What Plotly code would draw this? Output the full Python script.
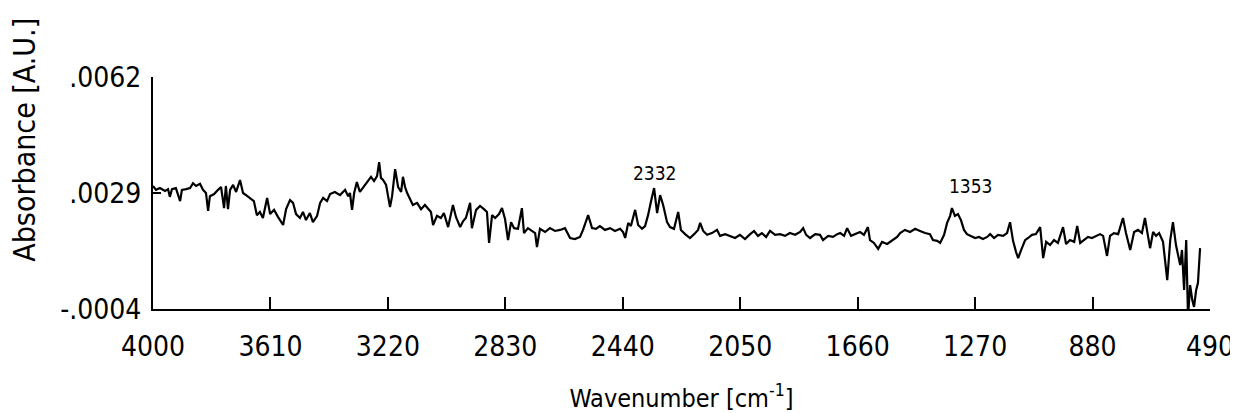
import plotly.graph_objects as go

# IR absorbance spectrum
wavenumber = [
    4000, 3990, 3977, 3960, 3950, 3944, 3937, 3924, 3910, 3904, 3890, 3877, 3867, 3857, 3844, 3834,
    3824, 3817, 3811, 3797, 3784, 3774, 3764, 3758, 3751, 3744, 3734, 3724, 3711, 3701, 3691, 3678,
    3665, 3655, 3645, 3635, 3621, 3611, 3598, 3585, 3568, 3558, 3545, 3535, 3525, 3512, 3502, 3492,
    3479, 3469, 3455, 3445, 3435, 3422, 3412, 3396, 3379, 3362, 3352, 3346, 3339, 3332, 3323, 3313,
    3303, 3289, 3276, 3266, 3256, 3249, 3243, 3236, 3226, 3220, 3213, 3206, 3196, 3186, 3176, 3170,
    3163, 3156, 3146, 3137, 3123, 3110, 3097, 3087, 3077, 3070, 3057, 3044, 3034, 3020, 3010, 3004,
    2994, 2980, 2970, 2961, 2947, 2941, 2927, 2914, 2901, 2891, 2884, 2874, 2864, 2851, 2841, 2831,
    2821, 2811, 2801, 2788, 2775, 2768, 2755, 2741, 2731, 2725, 2715, 2698, 2682, 2665, 2648, 2632,
    2615, 2599, 2582, 2572, 2555, 2542, 2529, 2516, 2499, 2482, 2466, 2449, 2439, 2432, 2422, 2413,
    2399, 2389, 2376, 2366, 2356, 2346, 2336, 2326, 2316, 2306, 2293, 2283, 2270, 2256, 2247, 2233,
    2217, 2203, 2190, 2183, 2173, 2160, 2144, 2127, 2117, 2100, 2084, 2067, 2051, 2034, 2017, 2004,
    1991, 1978, 1964, 1951, 1934, 1918, 1901, 1885, 1868, 1851, 1841, 1831, 1818, 1801, 1785, 1775,
    1758, 1742, 1728, 1718, 1705, 1695, 1682, 1669, 1652, 1639, 1626, 1619, 1606, 1592, 1579, 1562,
    1546, 1529, 1519, 1503, 1486, 1469, 1453, 1436, 1420, 1410, 1396, 1386, 1373, 1363, 1353, 1347,
    1337, 1327, 1317, 1307, 1297, 1283, 1270, 1257, 1244, 1230, 1220, 1207, 1194, 1177, 1164, 1154,
    1144, 1134, 1127, 1117, 1104, 1094, 1081, 1068, 1054, 1044, 1034, 1021, 1008, 995, 978, 968,
    955, 941, 931, 921, 908, 895, 882, 868, 855, 845, 832, 822, 809, 795, 779, 769,
    755, 742, 729, 716, 706, 696, 689, 679, 669, 659, 646, 632, 622, 613, 603, 589,
    583, 576, 569, 563, 556, 549, 543, 536, 530, 523,
]
absorbance = [
    0.00310, 0.00299, 0.00304, 0.00296, 0.00301, 0.00279, 0.00301, 0.00304, 0.00267, 0.00299, 0.00301, 0.00304, 0.00318, 0.00310, 0.00316, 0.00299,
    0.00290, 0.00239, 0.00281, 0.00287, 0.00299, 0.00307, 0.00247, 0.00310, 0.00244, 0.00299, 0.00313, 0.00293, 0.00327, 0.00290, 0.00284, 0.00276,
    0.00267, 0.00227, 0.00236, 0.00219, 0.00276, 0.00230, 0.00242, 0.00222, 0.00199, 0.00244, 0.00270, 0.00262, 0.00230, 0.00219, 0.00236, 0.00213,
    0.00233, 0.00207, 0.00225, 0.00262, 0.00276, 0.00267, 0.00287, 0.00293, 0.00284, 0.00299, 0.00281, 0.00290, 0.00242, 0.00290, 0.00321, 0.00293,
    0.00304, 0.00321, 0.00336, 0.00324, 0.00338, 0.00378, 0.00333, 0.00327, 0.00313, 0.00284, 0.00250, 0.00281, 0.00358, 0.00307, 0.00293, 0.00336,
    0.00307, 0.00290, 0.00270, 0.00256, 0.00262, 0.00244, 0.00256, 0.00247, 0.00236, 0.00199, 0.00225, 0.00219, 0.00233, 0.00193, 0.00236, 0.00256,
    0.00222, 0.00193, 0.00210, 0.00219, 0.00262, 0.00190, 0.00242, 0.00253, 0.00244, 0.00236, 0.00148, 0.00227, 0.00219, 0.00230, 0.00247, 0.00216,
    0.00156, 0.00207, 0.00190, 0.00188, 0.00247, 0.00176, 0.00190, 0.00182, 0.00176, 0.00136, 0.00188, 0.00179, 0.00190, 0.00182, 0.00185, 0.00190,
    0.00162, 0.00159, 0.00165, 0.00185, 0.00227, 0.00190, 0.00188, 0.00196, 0.00185, 0.00190, 0.00182, 0.00188, 0.00179, 0.00162, 0.00205, 0.00196,
    0.00242, 0.00199, 0.00188, 0.00196, 0.00227, 0.00267, 0.00304, 0.00233, 0.00284, 0.00256, 0.00207, 0.00193, 0.00188, 0.00236, 0.00185, 0.00173,
    0.00162, 0.00173, 0.00185, 0.00205, 0.00182, 0.00171, 0.00176, 0.00185, 0.00168, 0.00173, 0.00168, 0.00162, 0.00171, 0.00159, 0.00173, 0.00182,
    0.00168, 0.00176, 0.00165, 0.00182, 0.00171, 0.00173, 0.00168, 0.00176, 0.00171, 0.00179, 0.00190, 0.00171, 0.00162, 0.00173, 0.00171, 0.00156,
    0.00168, 0.00165, 0.00173, 0.00176, 0.00168, 0.00190, 0.00168, 0.00173, 0.00179, 0.00171, 0.00193, 0.00156, 0.00148, 0.00131, 0.00151, 0.00145,
    0.00156, 0.00165, 0.00176, 0.00185, 0.00179, 0.00188, 0.00182, 0.00176, 0.00173, 0.00156, 0.00154, 0.00148, 0.00171, 0.00205, 0.00225, 0.00247,
    0.00225, 0.00230, 0.00213, 0.00185, 0.00173, 0.00168, 0.00162, 0.00165, 0.00159, 0.00165, 0.00173, 0.00162, 0.00171, 0.00168, 0.00176, 0.00207,
    0.00154, 0.00122, 0.00105, 0.00128, 0.00156, 0.00162, 0.00171, 0.00173, 0.00193, 0.00105, 0.00151, 0.00142, 0.00156, 0.00148, 0.00193, 0.00145,
    0.00156, 0.00151, 0.00196, 0.00148, 0.00156, 0.00165, 0.00162, 0.00168, 0.00173, 0.00168, 0.00111, 0.00168, 0.00176, 0.00173, 0.00219, 0.00176,
    0.00128, 0.00179, 0.00185, 0.00176, 0.00219, 0.00168, 0.00133, 0.00179, 0.00168, 0.00176, 0.00151, 0.00042, 0.00156, 0.00207, 0.00142, 0.00085,
    0.00128, 0.00014, 0.00156, -0.00063, 0.00028, -0.00014, -0.00034, 0.00014, 0.00034, 0.00133,
]

x_ticks = [4000, 3610, 3220, 2830, 2440, 2050, 1660, 1270, 880, 490]
y_ticks = [-0.0004, 0.0029, 0.0062]
y_tick_labels = ["-.0004", ".0029", ".0062"]

peak_labels = ["2332", "1353"]

font = "Liberation Sans Narrow, DejaVu Sans Condensed, Arial Narrow, sans-serif"

fig = go.Figure(go.Scatter(
    x=wavenumber, y=absorbance, mode="lines",
    line=dict(color="black", width=2.2),
))

fig.add_annotation(x=2332, y=0.00347, text=peak_labels[0], showarrow=False,
                   font=dict(size=19, family=font, color="black"))
fig.add_annotation(x=1285, y=0.00310, text=peak_labels[1], showarrow=False,
                   font=dict(size=19, family=font, color="black"))
fig.add_annotation(xref="paper", yref="paper", x=-0.121, y=0.73, text="Absorbance [A.U.]",
                   textangle=-90, showarrow=False, xanchor="center", yanchor="middle",
                   font=dict(size=30, family=font, color="black"))

fig.update_xaxes(
    range=[4000, 490], tickvals=x_ticks, ticktext=[str(t) for t in x_ticks],
    ticks="inside", ticklen=12, tickwidth=1.5, tickcolor="black",
    showline=True, linecolor="black", linewidth=2, showgrid=False, zeroline=False,
    tickfont=dict(size=28, family=font, color="black"), ticklabelstandoff=11,
    automargin=False,
    title=dict(text="Wavenumber [cm<sup>-1</sup>]", standoff=35,
               font=dict(size=25, family=font, color="black")),
)
fig.update_yaxes(
    range=[-0.0004, 0.0062], tickvals=y_ticks, ticktext=y_tick_labels,
    ticks="inside", ticklen=8, tickwidth=1.5, tickcolor="black",
    showline=True, linecolor="black", linewidth=2, showgrid=False, zeroline=False,
    tickfont=dict(size=28, family=font, color="black"), ticklabelstandoff=4,
    automargin=False,
)
# page body adds an 8px offset, so the figure is 8px smaller on each axis
fig.update_layout(
    width=1230, height=405,
    margin=dict(l=145, r=28, t=69, b=104),
    plot_bgcolor="white", paper_bgcolor="white",
    showlegend=False,
)

fig.write_html("out.html")
